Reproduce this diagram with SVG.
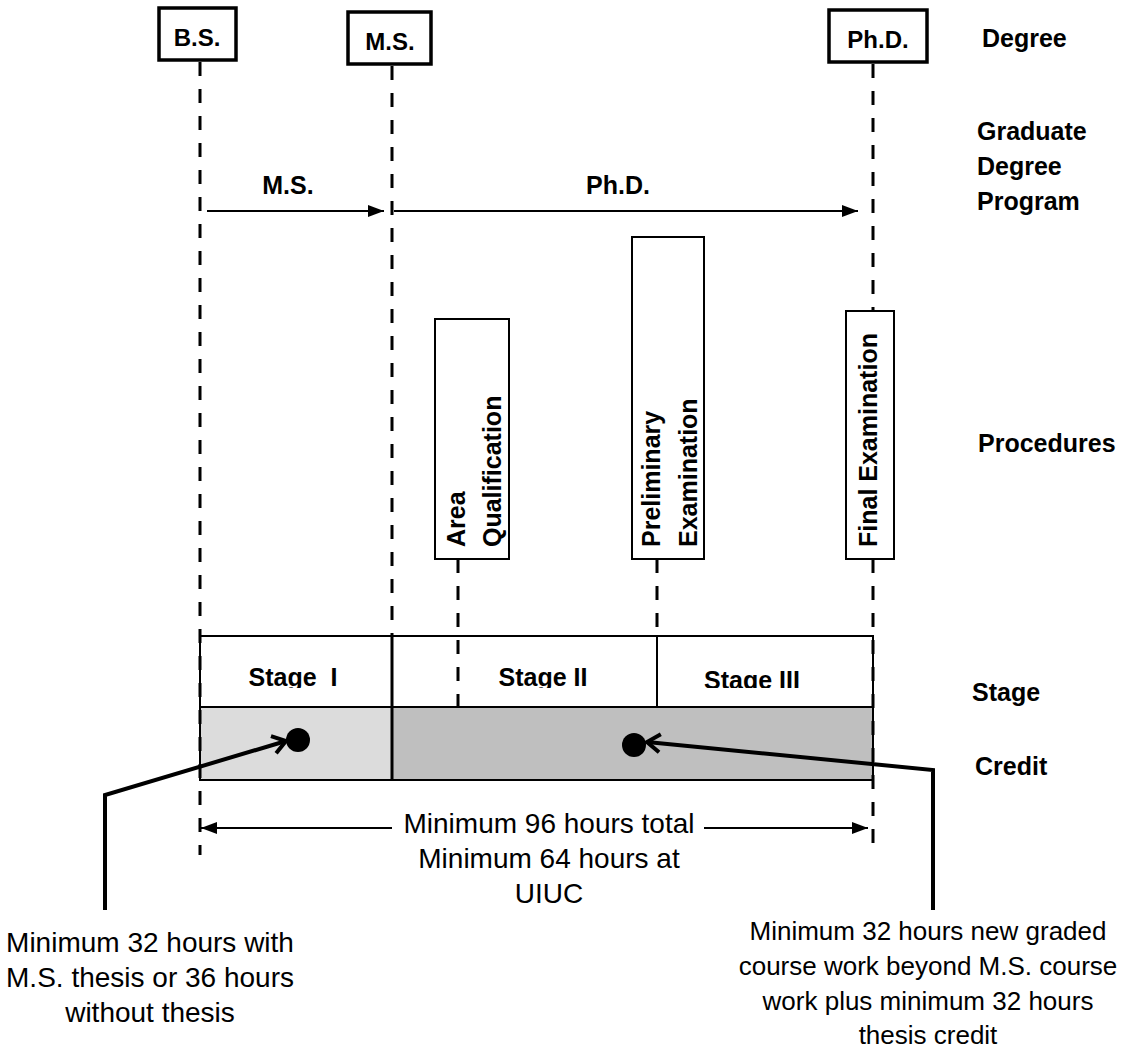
<svg xmlns="http://www.w3.org/2000/svg" width="1125" height="1049" viewBox="0 0 1125 1049">
<style>
.b{font-family:"Liberation Sans",Arial,sans-serif;font-weight:bold;font-size:25px;fill:#000}
.r{font-family:"Liberation Sans",Arial,sans-serif;font-size:28px;fill:#000}
.r2{font-family:"Liberation Sans",Arial,sans-serif;font-size:26px;fill:#000}
.c{text-anchor:middle}
.dash{stroke:#000;stroke-width:3;stroke-dasharray:14 13;fill:none}
.box{fill:#fff;stroke:#000;stroke-width:3.5}
.pbox{fill:#fff;stroke:#000;stroke-width:2}
.ln{stroke:#000;stroke-width:2;fill:none}
.call{stroke:#000;stroke-width:4;fill:none}
</style>
<defs>
<marker id="tri" markerWidth="16" markerHeight="12" refX="16" refY="6" orient="auto" markerUnits="userSpaceOnUse"><path d="M0,0 L16,6 L0,12 z" fill="#000"/></marker>
<marker id="vee" markerWidth="22" markerHeight="22" refX="18" refY="11" orient="auto" markerUnits="userSpaceOnUse"><path d="M5,2 L18,11 L5,20" fill="none" stroke="#000" stroke-width="4"/></marker>
<clipPath id="stclip"><rect x="200" y="636" width="673" height="52"/></clipPath>
</defs>
<rect width="1125" height="1049" fill="#fff"/>

<g id="stage-credit">
<rect x="200" y="636" width="673" height="71" class="pbox"/>
<rect x="200" y="707" width="192" height="73" fill="#dcdcdc" stroke="#000" stroke-width="2"/>
<rect x="392" y="707" width="481" height="73" fill="#bfbfbf" stroke="#000" stroke-width="2"/>
<line x1="657" y1="636" x2="657" y2="707" class="ln"/>
<line x1="392" y1="636" x2="392" y2="780" stroke="#000" stroke-width="3"/>
<g clip-path="url(#stclip)">
<text x="293" y="686" class="b c" xml:space="preserve">Stage  I</text>
<text x="543" y="686" class="b c">Stage II</text>
<text x="752" y="689" class="b c">Stage III</text>
</g>
</g>

<g id="connectors">
<line x1="200" y1="62" x2="200" y2="855" class="dash"/>
<line x1="392" y1="66" x2="392" y2="636" class="dash"/>
<line x1="873" y1="64" x2="873" y2="311" class="dash"/>
<line x1="873" y1="559" x2="873" y2="855" class="dash"/>
<line x1="458" y1="559" x2="458" y2="707" class="dash"/>
<line x1="657" y1="559" x2="657" y2="636" class="dash"/>
<line x1="207" y1="211" x2="384" y2="211" class="ln" marker-end="url(#tri)"/>
<line x1="394" y1="211" x2="858" y2="211" class="ln" marker-end="url(#tri)"/>
<line x1="392" y1="828" x2="201" y2="828" class="ln" marker-end="url(#tri)"/>
<line x1="704" y1="828" x2="868" y2="828" class="ln" marker-end="url(#tri)"/>
<polyline points="105,910 105,795 286,741" class="call" marker-end="url(#vee)"/>
<polyline points="933,910 933,770 647,742" class="call" marker-end="url(#vee)"/>
</g>

<g id="dots">
<ellipse cx="298" cy="740" rx="12" ry="12" fill="#000"/>
<ellipse cx="634" cy="745" rx="12" ry="12" fill="#000"/>
</g>

<g id="bs"><rect x="159" y="8" width="77" height="52" class="box"/><text x="197" y="46" class="b c" style="font-size:24px">B.S.</text></g>
<g id="ms"><rect x="348" y="12" width="83" height="52" class="box"/><text x="390" y="50" class="b c" style="font-size:24px">M.S.</text></g>
<g id="phd"><rect x="829" y="10" width="98" height="52" class="box"/><text x="878" y="48" class="b c" style="font-size:24px">Ph.D.</text></g>

<g id="prog-labels">
<text x="288" y="194" class="b c">M.S.</text>
<text x="618" y="194" class="b c">Ph.D.</text>
</g>

<g id="area"><rect x="435" y="319" width="74" height="240" class="pbox"/>
<text transform="translate(465,547) rotate(-90)" class="b">Area</text>
<text transform="translate(501,547) rotate(-90)" class="b">Qualification</text></g>
<g id="prelim"><rect x="632" y="237" width="72" height="322" class="pbox"/>
<text transform="translate(660,547) rotate(-90)" class="b">Preliminary</text>
<text transform="translate(697,547) rotate(-90)" class="b">Examination</text></g>
<g id="final"><rect x="846" y="311" width="48" height="248" class="pbox"/>
<text transform="translate(877,547) rotate(-90)" class="b">Final Examination</text></g>

<g id="row-labels">
<text x="982" y="47" class="b">Degree</text>
<text x="977" y="140" class="b">Graduate</text>
<text x="977" y="175" class="b">Degree</text>
<text x="977" y="210" class="b">Program</text>
<text x="978" y="452" class="b">Procedures</text>
<text x="972" y="701" class="b">Stage</text>
<text x="975" y="775" class="b">Credit</text>
</g>

<g id="total-note">
<text x="549" y="833" class="r c">Minimum 96 hours total</text>
<text x="549" y="868" class="r c">Minimum 64 hours at</text>
<text x="549" y="903" class="r c">UIUC</text>
</g>
<g id="ms-note">
<text x="150" y="952" class="r c">Minimum 32 hours with</text>
<text x="150" y="987" class="r c">M.S. thesis or 36 hours</text>
<text x="150" y="1022" class="r c">without thesis</text>
</g>
<g id="phd-note">
<text x="928" y="940" class="r2 c">Minimum 32 hours new graded</text>
<text x="928" y="975" class="r2 c">course work beyond M.S. course</text>
<text x="928" y="1010" class="r2 c">work plus minimum 32 hours</text>
<text x="928" y="1044" class="r2 c">thesis credit</text>
</g>
</svg>
